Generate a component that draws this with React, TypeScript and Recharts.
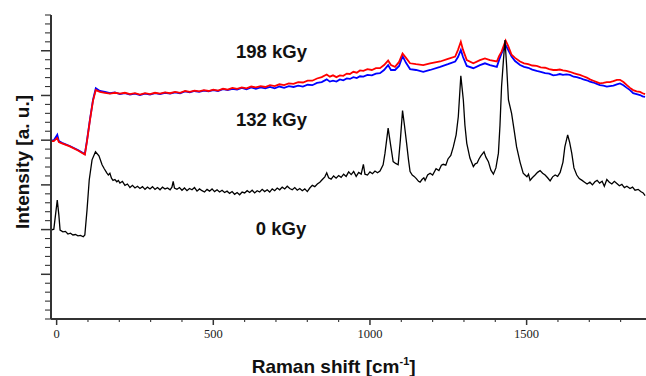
import React from "react";
import { LineChart, Line, XAxis, YAxis } from "recharts";

// 0 kGy spectrum (black): Raman shift and intensity, rows of 10
const shift0 = [
  -18,-9,2,7,11,20,28,36,44,52,
  60,68,76,85,90,97,104,113,124,135,
  145,152,160,165,170,175,180,186,192,197,
  202,210,218,226,234,242,250,258,266,274,
  282,290,298,306,314,322,330,338,346,354,
  362,368,372,376,384,392,400,408,416,424,
  432,440,448,456,464,472,480,488,496,504,
  512,520,528,536,544,552,560,568,576,584,
  592,600,608,616,624,632,640,648,656,664,
  672,680,688,696,704,712,720,728,736,744,
  752,760,768,776,784,792,800,808,816,824,
  832,840,848,856,862,868,876,884,892,900,
  908,916,924,932,940,948,956,964,972,979,
  984,992,1000,1008,1016,1024,1032,1042,1048,1058,
  1066,1074,1082,1090,1097,1104,1110,1117,1123,1128,
  1135,1141,1148,1155,1160,1166,1172,1176,1184,1192,
  1200,1211,1220,1228,1234,1242,1249,1258,1266,1275,
  1282,1290,1294,1298,1303,1309,1319,1330,1336,1342,
  1348,1354,1364,1370,1378,1386,1394,1402,1410,1415,
  1420,1426,1431,1436,1442,1452,1460,1468,1479,1489,
  1495,1501,1506,1511,1518,1527,1535,1543,1551,1559,
  1567,1575,1583,1591,1599,1607,1616,1622,1631,1637,
  1644,1651,1660,1668,1677,1685,1693,1702,1710,1718,
  1725,1733,1741,1748,1756,1764,1772,1780,1788,1796,
  1804,1812,1820,1830,1838,1846,1856,1864,1872,1878,
];
const intensity0 = [
  1.99,2.01,2.66,2.33,1.99,1.95,1.96,1.90,1.92,1.88,
  1.89,1.86,1.87,1.84,1.88,2.44,3.11,3.56,3.74,3.65,
  3.45,3.36,3.27,3.22,3.26,3.15,3.10,3.12,3.07,3.10,
  3.04,3.08,2.99,3.02,2.94,2.99,2.93,2.97,2.92,2.96,
  2.90,2.95,2.91,2.96,2.90,2.94,2.89,2.95,2.91,2.93,
  2.89,2.95,3.08,2.93,2.90,2.94,2.88,2.93,2.87,2.92,
  2.89,2.94,2.86,2.91,2.87,2.84,2.90,2.86,2.91,2.85,
  2.89,2.84,2.88,2.83,2.86,2.81,2.85,2.79,2.83,2.78,
  2.84,2.82,2.87,2.83,2.88,2.82,2.87,2.84,2.90,2.85,
  2.89,2.84,2.91,2.87,2.93,2.89,2.95,2.91,2.97,2.92,
  2.89,2.94,2.88,2.92,2.87,2.91,2.85,2.93,2.99,2.96,
  3.02,3.06,3.12,3.18,3.27,3.16,3.13,3.20,3.15,3.21,
  3.17,3.24,3.19,3.29,3.23,3.30,3.19,3.28,3.24,3.46,
  3.24,3.22,3.29,3.25,3.31,3.27,3.31,3.45,3.71,4.27,
  3.89,3.52,3.48,3.45,4.00,4.66,4.34,3.93,3.56,3.30,
  3.22,3.19,3.14,3.08,3.06,3.12,3.16,3.10,3.22,3.26,
  3.22,3.36,3.32,3.44,3.46,3.44,3.58,3.66,3.85,4.12,
  4.53,5.44,5.17,4.90,4.34,3.93,3.60,3.41,3.47,3.49,
  3.58,3.65,3.74,3.62,3.52,3.33,3.24,3.38,3.71,4.34,
  5.20,5.79,6.24,5.68,4.90,4.60,4.23,3.85,3.51,3.26,
  3.22,3.18,3.24,3.10,3.16,3.22,3.28,3.32,3.26,3.22,
  3.16,3.09,3.18,3.22,3.19,3.28,3.51,3.85,4.12,3.96,
  3.71,3.38,3.22,3.14,3.10,3.06,3.02,3.06,3.00,3.07,
  3.10,3.04,3.08,2.97,3.12,3.06,3.02,3.08,3.03,2.98,
  3.01,2.94,2.97,2.92,2.95,2.88,2.90,2.85,2.82,2.76,
];

// 132 kGy (blue) and 198 kGy (red) spectra, shared Raman shift, rows of 10
const shiftIrr = [
  -18,-9,2,7,17,42,68,90,97,106,
  116,125,138,154,170,186,202,218,234,250,
  266,282,298,314,330,346,362,378,394,410,
  425,440,455,470,485,500,515,531,546,561,
  576,591,606,621,636,651,666,681,696,711,
  726,741,756,771,786,801,816,831,846,862,
  872,882,893,904,915,926,936,947,958,968,
  979,992,1006,1019,1032,1045,1058,1067,1080,1093,
  1104,1115,1128,1147,1170,1192,1224,1249,1272,1281,
  1290,1297,1309,1330,1351,1367,1383,1405,1412,1420,
  1433,1441,1452,1463,1479,1492,1505,1518,1532,1545,
  1559,1572,1585,1596,1606,1616,1627,1638,1650,1660,
  1670,1681,1692,1702,1713,1724,1734,1745,1756,1766,
  1777,1788,1798,1809,1820,1830,1840,1851,1862,1870,
  1878,
];
const intensity132 = [
  3.99,4.0,4.12,3.98,3.94,3.87,3.78,3.69,4.0,4.45,
  4.9,5.16,5.1,5.08,5.05,5.07,5.03,5.05,5.02,5.04,
  5.01,5.04,5.02,5.05,5.03,5.06,5.04,5.07,5.05,5.09,
  5.07,5.10,5.08,5.11,5.09,5.12,5.10,5.14,5.12,5.15,
  5.13,5.17,5.14,5.18,5.15,5.18,5.16,5.19,5.16,5.20,
  5.17,5.21,5.19,5.22,5.20,5.24,5.23,5.28,5.30,5.36,
  5.31,5.33,5.31,5.36,5.34,5.38,5.37,5.41,5.39,5.43,
  5.42,5.46,5.45,5.49,5.50,5.57,5.68,5.57,5.57,5.66,
  5.88,5.73,5.59,5.57,5.53,5.57,5.64,5.70,5.76,5.86,
  6.02,5.86,5.66,5.61,5.68,5.72,5.68,5.64,5.79,5.94,
  6.13,6.02,5.87,5.77,5.68,5.64,5.62,5.58,5.55,5.53,
  5.50,5.49,5.45,5.46,5.48,5.46,5.47,5.46,5.42,5.41,
  5.39,5.36,5.34,5.31,5.29,5.26,5.23,5.22,5.20,5.21,
  5.22,5.25,5.27,5.23,5.17,5.12,5.05,5.03,5.01,4.98,
  4.97,
];
const intensity198 = [
  3.98,3.98,4.05,3.96,3.93,3.86,3.77,3.68,3.98,4.43,
  4.88,5.12,5.08,5.06,5.04,5.06,5.04,5.06,5.03,5.05,
  5.02,5.05,5.03,5.06,5.04,5.07,5.05,5.08,5.06,5.10,
  5.08,5.11,5.09,5.12,5.10,5.13,5.11,5.15,5.13,5.17,
  5.15,5.18,5.16,5.20,5.18,5.21,5.19,5.23,5.21,5.25,
  5.23,5.27,5.26,5.30,5.29,5.33,5.33,5.38,5.41,5.47,
  5.42,5.45,5.41,5.45,5.44,5.49,5.48,5.53,5.51,5.56,
  5.55,5.59,5.57,5.61,5.61,5.68,5.78,5.68,5.64,5.75,
  5.94,5.84,5.72,5.70,5.68,5.72,5.76,5.82,5.87,6.02,
  6.20,6.02,5.79,5.72,5.79,5.83,5.79,5.76,5.88,5.98,
  6.23,6.11,5.91,5.84,5.76,5.72,5.70,5.67,5.66,5.63,
  5.62,5.59,5.57,5.57,5.58,5.56,5.55,5.53,5.50,5.48,
  5.46,5.43,5.40,5.36,5.33,5.30,5.27,5.28,5.30,5.30,
  5.32,5.35,5.35,5.30,5.23,5.17,5.12,5.09,5.08,5.05,
  5.03,
];

// axis ticks
const xTicks = [0,100,200,300,400,500,600,700,800,900,1000,1100,1200,1300,1400,1500,1600,1700,1800];
const xLabelTicks = [0,500,1000,1500];
const yTicks = [0,0.2,0.4,0.6,0.8,1,1.2,1.4,1.6,1.8,2,2.2,2.4,2.6,2.8,3,3.2,3.4,3.6,3.8,4,4.2,4.4,4.6,4.8,5,5.2,5.4,5.6,5.8,6,6.2,6.4,6.6,6.8];
const yMajor = [1,2,3,4,5,6];

const data0 = shift0.map((x, i) => ({ x, y: intensity0[i] }));
const data132 = shiftIrr.map((x, i) => ({ x, y: intensity132[i] }));
const data198 = shiftIrr.map((x, i) => ({ x, y: intensity198[i] }));

const AX = "#333";

const YTick = (props: any) => {
  const { x, y, payload } = props;
  const v = payload.value;
  const major = yMajor.some((m) => Math.abs(m - v) < 1e-6);
  const len = major ? 10 : 6;
  return <line x1={x - len} x2={x} y1={y} y2={y} stroke={AX} strokeWidth={major ? 1.5 : 1.1} />;
};

const XTick = (props: any) => {
  const { x, y, payload } = props;
  const v = payload.value;
  const major = xLabelTicks.includes(v);
  return (
    <g>
      <line x1={x} x2={x} y1={y} y2={y + (major ? 6 : 3)} stroke={AX} strokeWidth={major ? 1.5 : 1.1} />
      {major && (
        <text x={x} y={y + 19} textAnchor="middle" fontFamily="'Liberation Serif', 'Times New Roman', serif" fontSize={12.5} fill="#222">
          {v}
        </text>
      )}
    </g>
  );
};

export default function App() {
  const bold = { fontFamily: "'Liberation Sans', Arial, sans-serif", fontWeight: 700 as const, fill: "#111" };
  return (
    <div style={{ position: "absolute", left: 0, top: 0, width: 646, height: 376, background: "#fff" }}>
      <LineChart width={646} height={376} margin={{ top: 15, right: 0, bottom: 0, left: 0 }}>
        <XAxis
          type="number"
          dataKey="x"
          domain={[-18, 1881]}
          allowDataOverflow
          ticks={xTicks}
          interval={0}
          tickSize={0}
          tickMargin={0}
          tickLine={false}
          tick={<XTick />}
          height={57}
          axisLine={{ stroke: AX, strokeWidth: 2 }}
        />
        <YAxis
          type="number"
          dataKey="y"
          domain={[0, 6.8]}
          allowDataOverflow
          ticks={yTicks}
          interval={0}
          tickSize={0}
          tickMargin={0}
          tickLine={false}
          tick={<YTick />}
          width={51}
          axisLine={{ stroke: AX, strokeWidth: 2 }}
        />
        <Line data={data132} dataKey="y" type="linear" stroke="#0000ff" strokeWidth={1.8} dot={false} isAnimationActive={false} />
        <Line data={data198} dataKey="y" type="linear" stroke="#ff0000" strokeWidth={1.8} dot={false} isAnimationActive={false} />
        <Line data={data0} dataKey="y" type="linear" stroke="#000000" strokeWidth={1.3} dot={false} isAnimationActive={false} />
      </LineChart>
      <svg width={646} height={376} style={{ position: "absolute", left: 0, top: 0, pointerEvents: "none" }}>
        <text x={271.5} y={58.3} textAnchor="middle" fontSize={18.5} {...bold}>198 kGy</text>
        <text x={271.5} y={125.5} textAnchor="middle" fontSize={18.5} {...bold}>132 kGy</text>
        <text x={281} y={235} textAnchor="middle" fontSize={18.5} {...bold}>0 kGy</text>
        <text transform="translate(28.5,162) rotate(-90)" textAnchor="middle" fontSize={19} {...bold}>Intensity [a. u.]</text>
        <text x={251.7} y={373.3} fontSize={19} {...bold}>
          Raman shift [cm<tspan fontSize={11} dy={-8}>-1</tspan><tspan dy={8}>]</tspan>
        </text>
      </svg>
    </div>
  );
}
